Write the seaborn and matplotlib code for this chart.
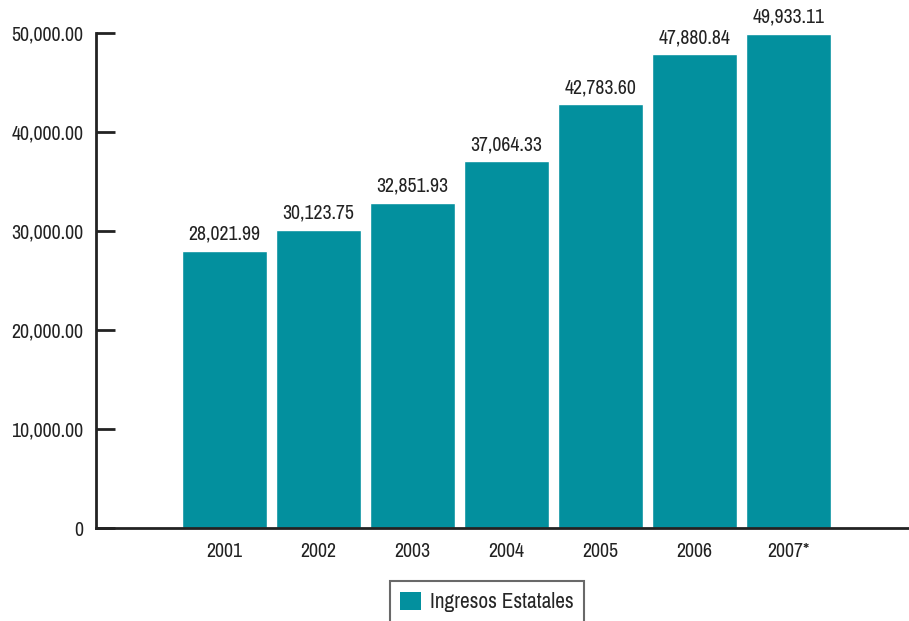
import matplotlib
matplotlib.use("Agg")
import matplotlib.pyplot as plt
import seaborn as sns
import pandas as pd
from matplotlib.patches import Patch

years = ["2001", "2002", "2003", "2004", "2005", "2006", "2007*"]
values = [28021.99, 30123.75, 32851.93, 37064.33, 42783.60, 47880.84, 49933.11]
series_name = "Ingresos Estatales"
ytick_vals = [0, 10000, 20000, 30000, 40000, 50000]
ytick_labels = ["0", "10,000.00", "20,000.00", "30,000.00", "40,000.00", "50,000.00"]

sns.set_style("white")
plt.rcParams["font.family"] = ["Archivo Narrow", "DejaVu Sans"]

df = pd.DataFrame({"year": years, "value": values})
color = "#03909E"
text_color = "#222222"

fig = plt.figure(figsize=(9.09, 6.21), dpi=100)
ax = fig.add_axes([96 / 909, 1 - 528 / 621, (908 - 96) / 909, (528 - 33) / 621])
sns.barplot(data=df, x="year", y="value", color=color, width=0.9, saturation=1, ax=ax)

for c in ax.containers:
    ax.bar_label(c, labels=[f"{v:,.2f}" for v in values], padding=5, fontsize=14.2, color=text_color)

ax.set_xlim(-1.367, 7.27)
ax.set_ylim(0, 50000)
ax.set_yticks(ytick_vals)
ax.set_yticklabels(ytick_labels)
ax.set_xlabel("")
ax.set_ylabel("")
for s in ["top", "right"]:
    ax.spines[s].set_visible(False)
for s in ["left", "bottom"]:
    ax.spines[s].set_color(text_color)
    ax.spines[s].set_linewidth(2)
ax.tick_params(axis="y", direction="in", length=14, width=2, color=text_color, pad=9,
               labelsize=14.3, labelcolor=text_color, left=True)
ax.tick_params(axis="x", length=0, pad=10, labelsize=14.3, labelcolor=text_color)

handle = Patch(facecolor=color, edgecolor="none")
leg = fig.legend([handle], [series_name], loc="lower center", bbox_to_anchor=(487 / 909, -0.02),
                 frameon=True, fancybox=False, fontsize=15.3, handlelength=0.95, handleheight=0.95,
                 borderpad=0.5, handletextpad=0.45, edgecolor="#444444")
leg.get_frame().set_linewidth(1.5)

fig.savefig("out.png", dpi=100)
